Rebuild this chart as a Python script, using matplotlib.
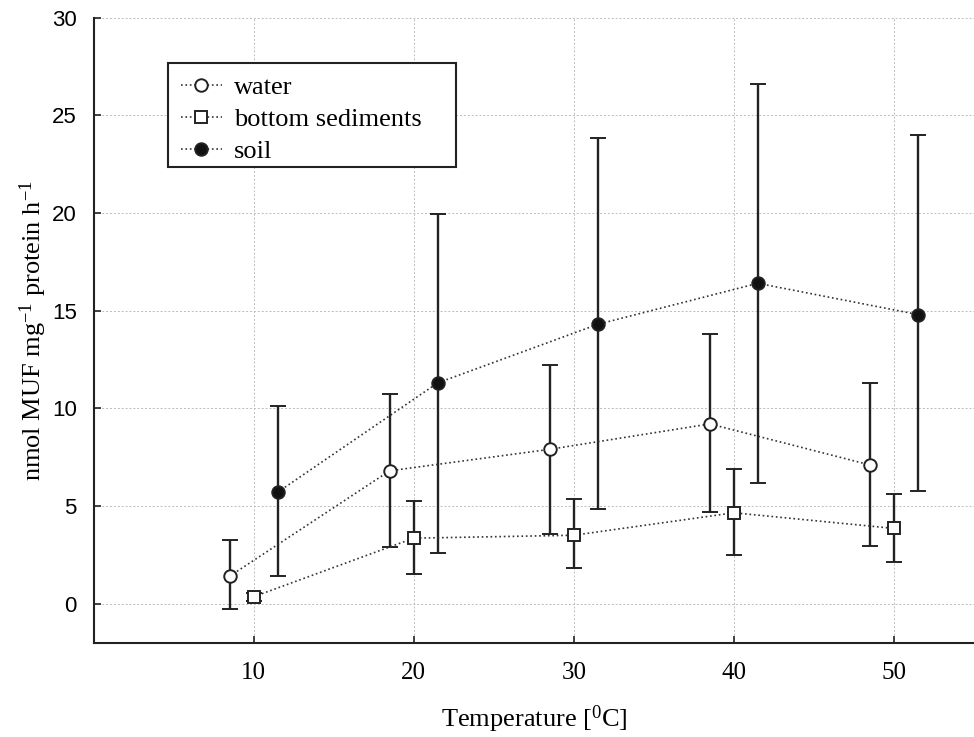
import matplotlib
matplotlib.use("Agg")
import matplotlib.pyplot as plt
from matplotlib.lines import Line2D
from matplotlib.patches import Rectangle

# temperatures (series are offset slightly around each temperature)
temps = [10, 20, 30, 40, 50]
x_water = [8.5, 18.5, 28.5, 38.5, 48.5]
x_sed = [10, 20, 30, 40, 50]
x_soil = [11.5, 21.5, 31.5, 41.5, 51.5]

water = [1.4, 6.8, 7.9, 9.2, 7.1]
water_hi = [3.25, 10.75, 12.2, 13.8, 11.3]
water_lo = [-0.3, 2.9, 3.55, 4.7, 2.95]

sed = [0.35, 3.35, 3.5, 4.65, 3.85]
sed_hi = [0.55, 5.25, 5.35, 6.9, 5.6]
sed_lo = [0.15, 1.5, 1.8, 2.5, 2.15]

soil = [5.7, 11.3, 14.3, 16.4, 14.8]
soil_hi = [10.1, 19.95, 23.85, 26.6, 24.0]
soil_lo = [1.4, 2.6, 4.85, 6.2, 5.75]

labels = ["water", "bottom sediments", "soil"]

SERIF = "Liberation Serif"
SANS = "Liberation Sans"
plt.rcParams["mathtext.fontset"] = "custom"
plt.rcParams["mathtext.rm"] = SERIF
plt.rcParams["mathtext.it"] = SERIF + ":italic"


def err(vals, lo, hi):
    return [[v - l for v, l in zip(vals, lo)], [h - v for v, h in zip(vals, hi)]]


def main():
    fig = plt.figure(figsize=(9.74, 7.37), dpi=100)
    ax = fig.add_axes([0.096, 0.128, 0.904, 0.848])

    dark = "#222222"
    circ = dict(markersize=9, markeredgewidth=1.4, markeredgecolor=dark)
    sq = dict(markersize=8.5, markeredgewidth=1.4, markeredgecolor=dark)
    style = dict(ls=":", lw=1.2, color="#333333", ecolor=dark,
                 elinewidth=1.7, capsize=6, capthick=1.7)
    ax.errorbar(x_water, water, yerr=err(water, water_lo, water_hi),
                marker="o", markerfacecolor="white", **circ, **style)
    ax.errorbar(x_sed, sed, yerr=err(sed, sed_lo, sed_hi),
                marker="s", markerfacecolor="white", **sq, **style)
    ax.errorbar(x_soil, soil, yerr=err(soil, soil_lo, soil_hi),
                marker="o", markerfacecolor="#111111", **circ, **style)

    ax.set_xlim(0, 55)
    ax.set_ylim(-2, 30)
    ax.set_xticks(temps)
    ax.set_yticks([0, 5, 10, 15, 20, 25, 30])
    ax.grid(True, ls=(0, (2, 2)), lw=0.7, color="#bbbbbb")
    for side in ("top", "right"):
        ax.spines[side].set_visible(False)
    for side in ("left", "bottom"):
        ax.spines[side].set_linewidth(1.5)
        ax.spines[side].set_color(dark)
    ax.tick_params(direction="in", length=5, width=1.2, color=dark)
    ax.tick_params(axis="x", pad=14, labelsize=18, labelfontfamily=SERIF)
    ax.tick_params(axis="y", pad=12, labelsize=16, labelfontfamily=SANS)

    ax.set_xlabel(r"Temperature [$\mathregular{^{0}}$C]", family=SERIF,
                  fontsize=19, labelpad=14)
    ax.set_ylabel(r"nmol MUF mg$\mathregular{^{-1}}$ protein h$\mathregular{^{-1}}$",
                  family=SERIF, fontsize=19, labelpad=2)

    handles = [
        Line2D([], [], ls=":", lw=1.2, color="#333333", marker="o",
               markerfacecolor="white", **circ),
        Line2D([], [], ls=":", lw=1.2, color="#333333", marker="s",
               markerfacecolor="white", **sq),
        Line2D([], [], ls=":", lw=1.2, color="#333333", marker="o",
               markerfacecolor="#111111", **circ),
    ]
    # legend box is drawn separately so it can be wider than its text
    ax.add_patch(Rectangle((0.0841, 0.7616), 0.3273, 0.1664,
                           transform=ax.transAxes, facecolor="white",
                           edgecolor=dark, lw=1.5, zorder=4))
    leg = ax.legend(handles, labels, loc="upper left",
                    bbox_to_anchor=(0.0841, 0.928),
                    prop=dict(family=SERIF, size=19), frameon=False,
                    handlelength=1.55, borderpad=0.5, labelspacing=0.32,
                    handletextpad=0.45, borderaxespad=0)
    leg.set_zorder(5)

    fig.savefig("out.png", dpi=100)


if __name__ == "__main__":
    main()
